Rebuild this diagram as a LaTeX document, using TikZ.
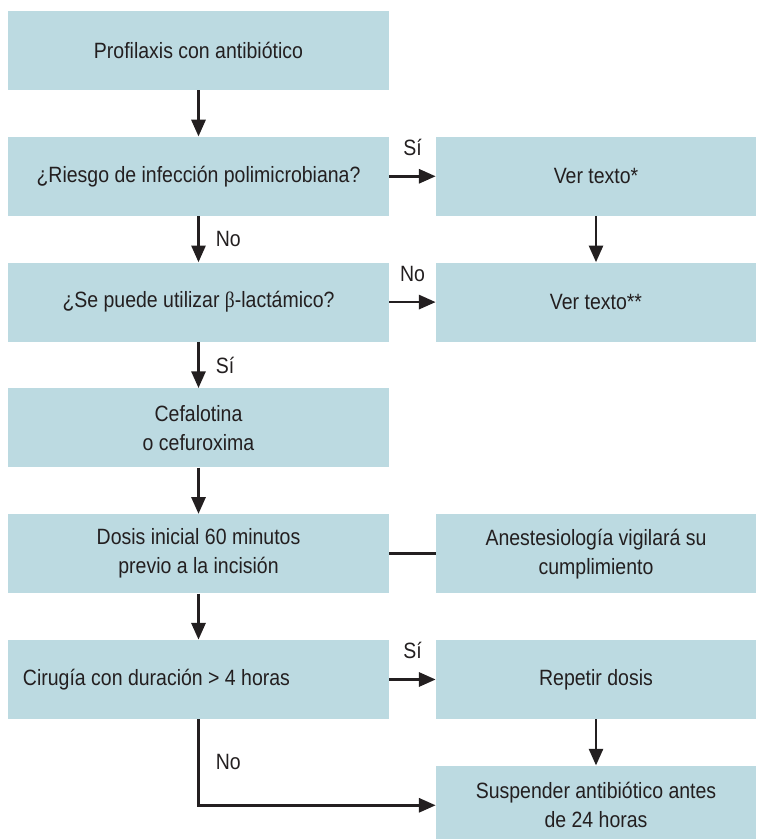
\documentclass[tikz,border=0pt]{standalone}
\usepackage{fontspec}
\setmainfont{Liberation Sans}[FakeStretch=0.88]
\newfontfamily\betafont{Liberation Serif}[FakeStretch=0.88]
\usetikzlibrary{arrows.meta}
\begin{document}
\begin{tikzpicture}[
    flowbox/.style={shape=rectangle,fill=prof_bgbox,minimum height=1.58cm,inner sep=0pt,align=center,text=prof_ink,font=\fontsize{12.6}{16.5}\selectfont},
    leftbox/.style={flowbox,minimum width=7.62cm},
    rightbox/.style={flowbox,minimum width=6.4cm},
    flowline/.style={draw=prof_ink,line width=1.5pt},
    flowarrow/.style={flowline,-{Triangle[length=9.5pt,width=8pt]}},
    answer/.style={inner sep=0pt,text=prof_ink,font=\fontsize{12.6}{13}\selectfont}
  ]
    \definecolor{prof_bgbox}{RGB}{188,218,225}
    \definecolor{prof_ink}{RGB}{35,31,32}
    \useasboundingbox (0,0) rectangle (15.12,16.78);
    \clip (0,0) rectangle (15.12,16.78);
    \node[leftbox]  (prof)      at (3.97,15.77)  {Profilaxis con antibiótico};
    \node[leftbox]  (riesgo)    at (3.97,13.254) {¿Riesgo de infección polimicrobiana?};
    \node[rightbox] (texto1)    at (11.92,13.254) {Ver texto*};
    \node[leftbox]  (betalac)   at (3.97,10.738) {¿Se puede utilizar {\betafont β}-lactámico?};
    \node[rightbox] (texto2)    at (11.92,10.738) {Ver texto**};
    \node[leftbox]  (cefalo)    at (3.97,8.222)  {Cefalotina\\o cefuroxima};
    \node[leftbox]  (dosis)     at (3.97,5.706)  {Dosis inicial 60 minutos\\previo a la incisión};
    \node[rightbox] (aneste)    at (11.92,5.706) {Anestesiología vigilará su\\cumplimiento};
    \node[leftbox,text width=7.02cm,align=flush left] (cirugia) at (3.97,3.19) {Cirugía con duración > 4 horas};
    \node[rightbox] (repetir)   at (11.92,3.19)  {Repetir dosis};
    \node[rightbox] (suspender) at (11.92,0.674) {Suspender antibiótico antes\\de 24 horas};
    \draw[flowarrow] (prof) -- (riesgo);
    \draw[flowarrow] (riesgo) -- node[answer,right=0.32cm] {No} (betalac);
    \draw[flowarrow] (riesgo) -- node[answer,above=0.38cm] {Sí} (texto1);
    \draw[flowarrow] (texto1) -- (texto2);
    \draw[flowarrow] (betalac) -- node[answer,above=0.38cm] {No} (texto2);
    \draw[flowarrow] (betalac) -- node[answer,right=0.32cm] {Sí} (cefalo);
    \draw[flowarrow] (cefalo) -- (dosis);
    \draw[flowline]  (dosis) -- (aneste);
    \draw[flowarrow] (dosis) -- (cirugia);
    \draw[flowarrow] (cirugia) -- node[answer,above=0.38cm] {Sí} (repetir);
    \draw[flowarrow] (repetir) -- (suspender);
    \draw[flowarrow] (cirugia.south) |- node[answer,pos=0.25,right=0.32cm] {No} (suspender.west);
\end{tikzpicture}
\end{document}
